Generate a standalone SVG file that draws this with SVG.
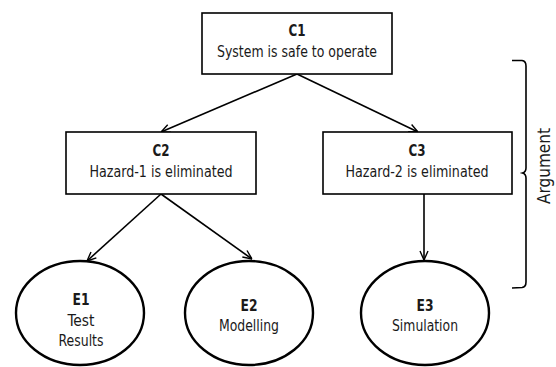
<svg xmlns="http://www.w3.org/2000/svg" width="556" height="367" viewBox="0 0 556 367">
<style>
.box{fill:#fff;stroke:#000;stroke-width:1.6}
.ev{fill:#fff;stroke:#000;stroke-width:2.4}
.t{font-family:"DejaVu Sans Condensed","DejaVu Sans",sans-serif;font-size:15.5px;fill:#1a1a1a;text-anchor:middle}
.b{font-weight:bold}
.c{fill:none;stroke:#000;stroke-width:1.6}
</style>
<defs>
<marker id="ah" viewBox="0 0 10 10" refX="10" refY="5" markerWidth="10" markerHeight="10" markerUnits="userSpaceOnUse" orient="auto">
<path d="M1,1 L10,5 L1,9" fill="none" stroke="#000" stroke-width="1.4"/>
</marker>
</defs>
<g id="connectors">
<line class="c" x1="297" y1="74" x2="161" y2="132" marker-end="url(#ah)"/>
<line class="c" x1="297" y1="74" x2="418" y2="132" marker-end="url(#ah)"/>
<line class="c" x1="161" y1="194" x2="87" y2="261" marker-end="url(#ah)"/>
<line class="c" x1="161" y1="194" x2="252" y2="259" marker-end="url(#ah)"/>
<line class="c" x1="424" y1="194" x2="424" y2="260" marker-end="url(#ah)"/>
</g>
<g id="C1">
<rect class="box" x="202" y="13" width="190" height="61"/>
<text class="t b" x="297" y="36" textLength="17" lengthAdjust="spacingAndGlyphs">C1</text>
<text class="t" x="297" y="57" textLength="160" lengthAdjust="spacingAndGlyphs">System is safe to operate</text>
</g>
<g id="C2">
<rect class="box" x="66" y="132" width="190" height="62"/>
<text class="t b" x="161" y="156" textLength="17" lengthAdjust="spacingAndGlyphs">C2</text>
<text class="t" x="161" y="177" textLength="143" lengthAdjust="spacingAndGlyphs">Hazard-1 is eliminated</text>
</g>
<g id="C3">
<rect class="box" x="323" y="132" width="189" height="62"/>
<text class="t b" x="417" y="156" textLength="17" lengthAdjust="spacingAndGlyphs">C3</text>
<text class="t" x="417" y="177" textLength="143" lengthAdjust="spacingAndGlyphs">Hazard-2 is eliminated</text>
</g>
<g id="E1">
<ellipse class="ev" cx="80" cy="313" rx="64" ry="52"/>
<text class="t b" x="81" y="305" textLength="17" lengthAdjust="spacingAndGlyphs">E1</text>
<text class="t" x="81" y="326" textLength="27" lengthAdjust="spacingAndGlyphs">Test</text>
<text class="t" x="81" y="346" textLength="45" lengthAdjust="spacingAndGlyphs">Results</text>
</g>
<g id="E2">
<ellipse class="ev" cx="249" cy="313" rx="64" ry="52"/>
<text class="t b" x="249" y="311" textLength="17" lengthAdjust="spacingAndGlyphs">E2</text>
<text class="t" x="249" y="331" textLength="60" lengthAdjust="spacingAndGlyphs">Modelling</text>
</g>
<g id="E3">
<ellipse class="ev" cx="425" cy="313" rx="64" ry="52"/>
<text class="t b" x="425" y="311" textLength="17" lengthAdjust="spacingAndGlyphs">E3</text>
<text class="t" x="425" y="331" textLength="66" lengthAdjust="spacingAndGlyphs">Simulation</text>
</g>
<g id="argument">
<path class="c" d="M512,60.5 L522,60.5 Q526,61 526,66 L526,168 Q526,172 522.5,173 Q526,174 526,178 L526,282 Q526,287 522,287.5 L512,288"/>
<text class="t" transform="translate(550,166) rotate(-90)" style="font-size:17px" textLength="76" lengthAdjust="spacingAndGlyphs">Argument</text>
</g>
</svg>
